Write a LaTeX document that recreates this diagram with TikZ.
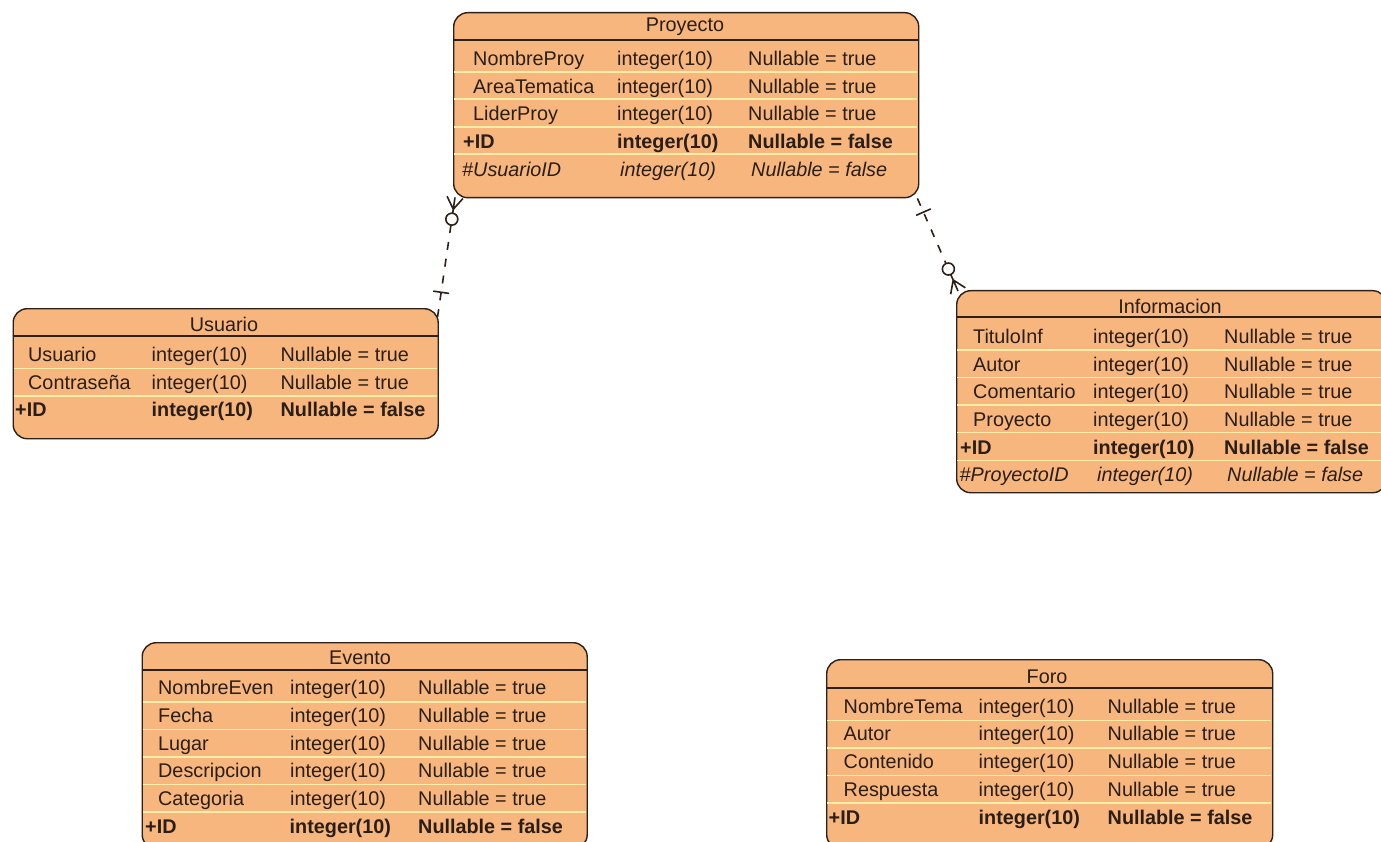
\documentclass[tikz,border=0pt]{standalone}
\usepackage{fontspec}
\setmainfont{Liberation Sans}
\usepackage{xcolor}
\usepackage{tikz}
\usetikzlibrary{calc}

\definecolor{erfill}{RGB}{246,182,126}
\definecolor{errow}{RGB}{255,238,168}
\definecolor{erline}{RGB}{45,32,24}
\definecolor{ertext}{RGB}{42,30,22}

\begin{document}
\begin{tikzpicture}[
  x=1pt, y=-1pt,
  tbox/.style={draw=erline, fill=erfill, rectangle, rounded corners=14pt,
               line width=1.4pt, anchor=north west, inner sep=0pt},
  hdr/.style={font=\fontsize{19.8}{23}\selectfont, text=ertext, inner sep=0pt,
              yshift=-1pt},
  fld/.style={anchor=mid west, inner sep=0pt, text=ertext, yshift=-4pt,
              font=\fontsize{19.8}{23}\selectfont},
  pk/.style={fld, font=\fontsize{19.8}{23}\selectfont\bfseries},
  fk/.style={fld, font=\fontsize{19.8}{23}\selectfont\itshape},
  hsep/.style={draw=erline, line width=1.2pt},
  rsep/.style={draw=errow, line width=1.8pt},
  rel/.style={draw=erline, line width=1.6pt},
  reldash/.style={rel, dash pattern=on 8pt off 9pt},
]
\useasboundingbox (0,0) rectangle (1381,842);

%%---- Proyecto ------------------------------------------------------
\node[tbox, minimum width=465pt, minimum height=185pt] (proy) at (453,12) {};
\foreach \y in {72,99,127,154} \draw[rsep] (454,\y) -- (917,\y);
\draw[hsep] (453,40) -- (918,40);
\node[hdr] (proyH) at (685,26) {Proyecto};
\foreach \f [count=\i] in {NombreProy,AreaTematica,LiderProy}{
  \node[fld] (proyN\i) at (473,{31.5+27.5*\i}) {\f};
  \node[fld] (proyT\i) at (617,{31.5+27.5*\i}) {integer(10)};
  \node[fld] (proyV\i) at (748,{31.5+27.5*\i}) {Nullable = true};
}
\node[pk] (proyN4) at (463,142) {+ID};
\node[pk] (proyT4) at (617,142) {integer(10)};
\node[pk] (proyV4) at (748,142) {Nullable = false};
\node[fk] (proyN5) at (462,169.5) {\#UsuarioID};
\node[fk] (proyT5) at (620,169.5) {integer(10)};
\node[fk] (proyV5) at (751,169.5) {Nullable = false};

%%---- Usuario -------------------------------------------------------
\node[tbox, minimum width=425pt, minimum height=130pt] (usr) at (12.5,308) {};
\foreach \y in {368.5,396} \draw[rsep] (13.5,\y) -- (436.5,\y);
\draw[hsep] (12.5,336) -- (437.5,336);
\node[hdr] (usrH) at (224,323) {Usuario};
\foreach \f [count=\i] in {Usuario,Contraseña}{
  \node[fld] (usrN\i) at (28,{327.5+27.5*\i}) {\f};
  \node[fld] (usrT\i) at (151.5,{327.5+27.5*\i}) {integer(10)};
  \node[fld] (usrV\i) at (280.5,{327.5+27.5*\i}) {Nullable = true};
}
\node[pk] (usrN3) at (15,410) {+ID};
\node[pk] (usrT3) at (151.5,410) {integer(10)};
\node[pk] (usrV3) at (280.5,410) {Nullable = false};

%%---- Informacion ---------------------------------------------------
\node[tbox, minimum width=430pt, minimum height=202pt] (inf) at (956,290) {};
\foreach \y in {350,377.5,405,432.5,460.5} \draw[rsep] (957,\y) -- (1385,\y);
\draw[hsep] (956,317) -- (1386,317);
\node[hdr] (infH) at (1170,305.5) {Informacion};
\foreach \f [count=\i] in {TituloInf,Autor,Comentario,Proyecto}{
  \node[fld] (infN\i) at (973,{309+27.7*\i}) {\f};
  \node[fld] (infT\i) at (1093,{309+27.7*\i}) {integer(10)};
  \node[fld] (infV\i) at (1224,{309+27.7*\i}) {Nullable = true};
}
\node[pk] (infN5) at (960,447.5) {+ID};
\node[pk] (infT5) at (1093,447.5) {integer(10)};
\node[pk] (infV5) at (1224,447.5) {Nullable = false};
\node[fk] (infN6) at (959.5,475) {\#ProyectoID};
\node[fk] (infT6) at (1097,475) {integer(10)};
\node[fk] (infV6) at (1227,475) {Nullable = false};

%%---- Evento --------------------------------------------------------
\node[tbox, minimum width=445pt, minimum height=206pt] (evt) at (141.5,642) {};
\foreach \y in {702,729.5,757,784.5,812} \draw[rsep] (142.5,\y) -- (585.5,\y);
\draw[hsep] (141.5,670) -- (586.5,670);
\node[hdr] (evtH) at (360,656.5) {Evento};
\foreach \f [count=\i] in {NombreEven,Fecha,Lugar,Descripcion,Categoria}{
  \node[fld] (evtN\i) at (158,{660.3+27.7*\i}) {\f};
  \node[fld] (evtT\i) at (290,{660.3+27.7*\i}) {integer(10)};
  \node[fld] (evtV\i) at (418,{660.3+27.7*\i}) {Nullable = true};
}
\node[pk] (evtN6) at (145,826.5) {+ID};
\node[pk] (evtT6) at (289.5,826.5) {integer(10)};
\node[pk] (evtV6) at (418,826.5) {Nullable = false};

%%---- Foro ----------------------------------------------------------
\node[tbox, minimum width=446pt, minimum height=189pt] (foro) at (826,659) {};
\foreach \y in {720.5,748,775.5,803} \draw[rsep] (827,\y) -- (1271,\y);
\draw[hsep] (826,688) -- (1272,688);
\node[hdr] (foroH) at (1047,675.5) {Foro};
\foreach \f [count=\i] in {NombreTema,Autor,Contenido,Respuesta}{
  \node[fld] (foroN\i) at (843.5,{679+27.6*\i}) {\f};
  \node[fld] (foroT\i) at (978.5,{679+27.6*\i}) {integer(10)};
  \node[fld] (foroV\i) at (1107.5,{679+27.6*\i}) {Nullable = true};
}
\node[pk] (foroN5) at (828.5,817.5) {+ID};
\node[pk] (foroT5) at (978.5,817.5) {integer(10)};
\node[pk] (foroV5) at (1107.5,817.5) {Nullable = false};

%%---- Relations -----------------------------------------------------
% Usuario (one) -- Proyecto (zero or many)
\coordinate (pu1) at ($(proy.south west)+(2,-1)$);
\coordinate (pu2) at ($(usr.north east)+(-1.5,10)$);
\coordinate (puc) at ($(pu1)!12pt!(pu2)$);
\draw[rel] (puc) -- (pu1)
  (puc) -- ($(pu1)!8pt!90:(pu2)$)
  (puc) -- ($(pu1)!8pt!-90:(pu2)$)
  (puc) -- ($(pu1)!16pt!(pu2)$);
\draw[rel] ($(pu1)!22pt!(pu2)$) circle[radius=6pt];
\draw[reldash] ($(pu1)!28pt!(pu2)$) -- (pu2);
\coordinate (pub) at ($(pu2)!26pt!(pu1)$);
\draw[rel] ($(pub)!8pt!90:(pu1)$) -- ($(pub)!8pt!-90:(pu1)$);

% Proyecto (one) -- Informacion (zero or many)
\coordinate (pi1) at ($(proy.south east)+(-2,0)$);
\coordinate (pi2) at ($(inf.north west)+(2,1)$);
\coordinate (pic) at ($(pi2)!12pt!(pi1)$);
\draw[rel] (pic) -- (pi2)
  (pic) -- ($(pi2)!8pt!90:(pi1)$)
  (pic) -- ($(pi2)!8pt!-90:(pi1)$)
  (pic) -- ($(pi2)!18pt!(pi1)$);
\draw[rel] ($(pi2)!24pt!(pi1)$) circle[radius=6pt];
\draw[reldash] (pi1) -- ($(pi2)!30pt!(pi1)$);
\coordinate (pib) at ($(pi1)!15pt!(pi2)$);
\draw[rel] ($(pib)!8pt!90:(pi2)$) -- ($(pib)!8pt!-90:(pi2)$);

\end{tikzpicture}
\end{document}
